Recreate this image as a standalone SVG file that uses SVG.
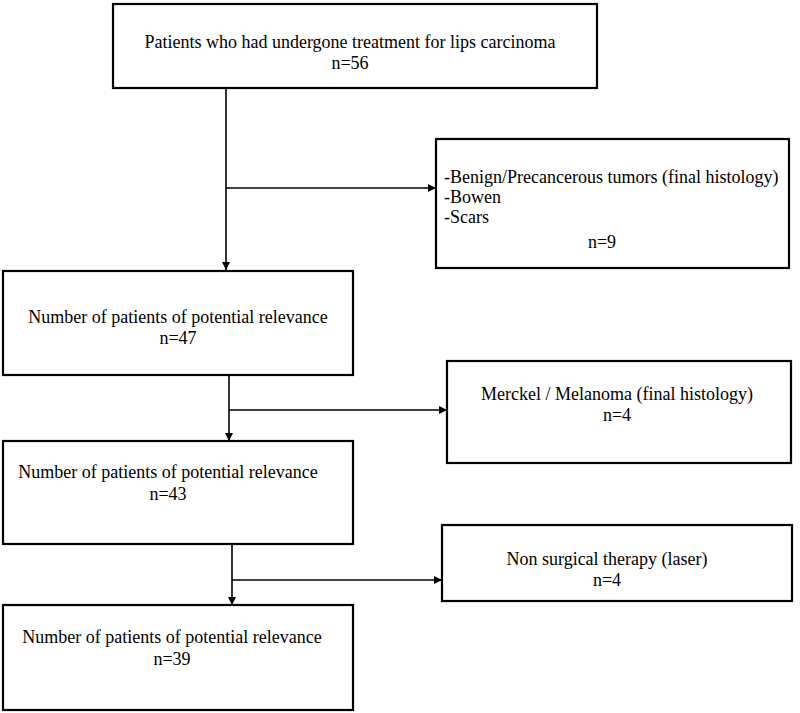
<svg xmlns="http://www.w3.org/2000/svg" width="800" height="713" viewBox="0 0 800 713">
<style>
.box{fill:#fff;stroke:#000;stroke-width:2.2}
.t{font-family:"Liberation Serif","Times New Roman",serif;font-size:18px;fill:#000}
.c{text-anchor:middle}
.ln{fill:none;stroke:#000;stroke-width:1.6}
</style>
<defs>
<marker id="ah" viewBox="0 0 10 10" refX="10" refY="5" markerWidth="8" markerHeight="8" markerUnits="userSpaceOnUse" orient="auto">
<path d="M0,0 L10,5 L0,10 z" fill="#000"/>
</marker>
</defs>
<rect width="800" height="713" fill="#fff"/>
<g id="connectors">
<line class="ln" x1="226" y1="88" x2="226" y2="270" marker-end="url(#ah)"/>
<line class="ln" x1="226" y1="188" x2="436" y2="188" marker-end="url(#ah)"/>
<line class="ln" x1="229" y1="375" x2="229" y2="441" marker-end="url(#ah)"/>
<line class="ln" x1="229" y1="410" x2="447" y2="410" marker-end="url(#ah)"/>
<line class="ln" x1="232" y1="544" x2="232" y2="605" marker-end="url(#ah)"/>
<line class="ln" x1="232" y1="580" x2="442" y2="580" marker-end="url(#ah)"/>
</g>
<g id="n1">
<rect class="box" x="113" y="4" width="484" height="84"/>
<text class="t c" x="350" y="48">Patients who had undergone treatment for lips carcinoma</text>
<text class="t c" x="350" y="69">n=56</text>
</g>
<g id="n2">
<rect class="box" x="436" y="139" width="353" height="129"/>
<text class="t" x="444" y="183">-Benign/Precancerous tumors (final histology)</text>
<text class="t" x="444" y="203">-Bowen</text>
<text class="t" x="444" y="223">-Scars</text>
<text class="t c" x="602" y="248">n=9</text>
</g>
<g id="n3">
<rect class="box" x="3" y="271" width="350" height="104"/>
<text class="t c" x="178" y="323">Number of patients of potential relevance</text>
<text class="t c" x="178" y="344">n=47</text>
</g>
<g id="n4">
<rect class="box" x="447" y="361" width="344" height="102"/>
<text class="t c" x="617" y="400">Merckel / Melanoma (final histology)</text>
<text class="t c" x="617" y="421">n=4</text>
</g>
<g id="n5">
<rect class="box" x="3" y="441" width="350" height="103"/>
<text class="t c" x="168" y="478">Number of patients of potential relevance</text>
<text class="t c" x="168" y="500">n=43</text>
</g>
<g id="n6">
<rect class="box" x="442" y="525" width="350" height="76"/>
<text class="t c" x="607" y="565">Non surgical therapy (laser)</text>
<text class="t c" x="607" y="586">n=4</text>
</g>
<g id="n7">
<rect class="box" x="3" y="605" width="350" height="105"/>
<text class="t c" x="172" y="643">Number of patients of potential relevance</text>
<text class="t c" x="172" y="665">n=39</text>
</g>
</svg>
